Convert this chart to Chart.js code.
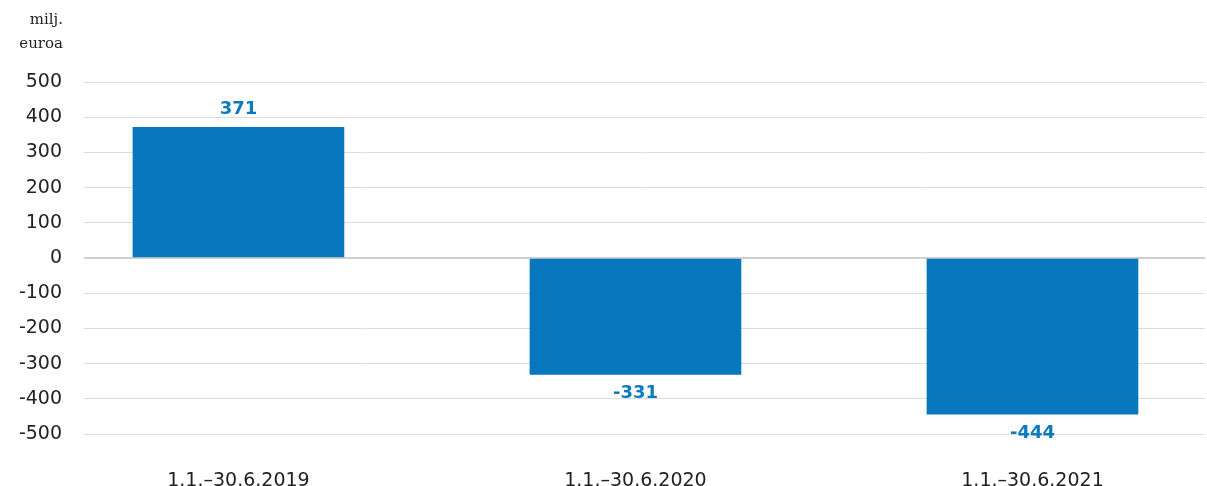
<!DOCTYPE html>
<html>
<head>
<meta charset="utf-8">
<script src="https://cdn.jsdelivr.net/npm/chart.js@4"></script>
<style>
  html, body { margin: 0; padding: 0; background: #fff; }
  #wrap { width: 1207px; height: 486px; }
</style>
</head>
<body>
<div id="wrap"><canvas id="chart" width="1207" height="486"></canvas></div>
<script>
// Tulos per jakso (milj. euroa)
const periods = ['1.1.\u201330.6.2019', '1.1.\u201330.6.2020', '1.1.\u201330.6.2021'];
const values = [371, -331, -444];
const yTicks = [500, 400, 300, 200, 100, 0, -100, -200, -300, -400, -500];
const unitLines = ['milj.', 'euroa'];

const colors = {
    bar: '#0777be',
    label: '#0b7ac0',
    text: '#222',
    grid: '#dcdcdc',
    zero: '#cfcfcf'
};

// Arvot palkkien päälle / alle
const valueLabels = {
    id: 'valueLabels',
    afterDatasetsDraw(chart) {
        const ctx = chart.ctx;
        const meta = chart.getDatasetMeta(0);
        ctx.save();
        ctx.font = 'bold 18px "DejaVu Sans"';
        ctx.fillStyle = colors.label;
        ctx.textAlign = 'center';
        ctx.textBaseline = 'middle';
        meta.data.forEach((bar, i) => {
            const v = values[i];
            const y = v >= 0 ? bar.y - 18 : bar.y + 19;
            ctx.fillText(String(v), bar.x, y);
        });
        ctx.restore();
    }
};

// Yksikkö vasempaan yläkulmaan
const unitTitle = {
    id: 'unitTitle',
    afterDraw(chart) {
        const ctx = chart.ctx;
        ctx.save();
        ctx.font = '15px "DejaVu Serif"';
        ctx.fillStyle = colors.text;
        ctx.textAlign = 'right';
        ctx.textBaseline = 'middle';
        unitLines.forEach((t, i) => ctx.fillText(t, 63, 20 + i * 24));
        ctx.restore();
    }
};

new Chart(document.getElementById('chart').getContext('2d'), {
    type: 'bar',
    data: {
        datasets: [{
            data: values.map((v, i) => ({ x: i, y: v })),
            backgroundColor: colors.bar,
            borderWidth: 0,
            barThickness: 211
        }]
    },
    options: {
        responsive: false,
        animation: false,
        layout: { padding: { top: 82, right: 2, bottom: 0, left: 0 } },
        plugins: { legend: { display: false }, tooltip: { enabled: false } },
        scales: {
            x: {
                type: 'linear',
                offset: false,
                min: -0.389,
                max: 2.4345,
                grid: { display: false },
                border: { display: false },
                afterBuildTicks: (axis) => { axis.ticks = periods.map((p, i) => ({ value: i })); },
                afterFit: (axis) => { axis.height = 52; },
                ticks: {
                    autoSkip: false,
                    maxRotation: 0,
                    padding: 28,
                    color: colors.text,
                    font: { family: '"DejaVu Sans"', size: 19 },
                    callback: (v) => periods[v]
                }
            },
            y: {
                min: -500,
                max: 500,
                afterBuildTicks: (axis) => { axis.ticks = yTicks.map(v => ({ value: v })); },
                afterFit: (axis) => { axis.width = 84; },
                border: { display: false },
                grid: {
                    drawTicks: false,
                    color: (c) => c.tick && c.tick.value === 0 ? colors.zero : colors.grid,
                    lineWidth: (c) => c.tick && c.tick.value === 0 ? 2 : 1
                },
                ticks: {
                    padding: 22,
                    color: colors.text,
                    font: { family: '"DejaVu Sans"', size: 19 }
                }
            }
        }
    },
    plugins: [valueLabels, unitTitle]
});
</script>
</body>
</html>
